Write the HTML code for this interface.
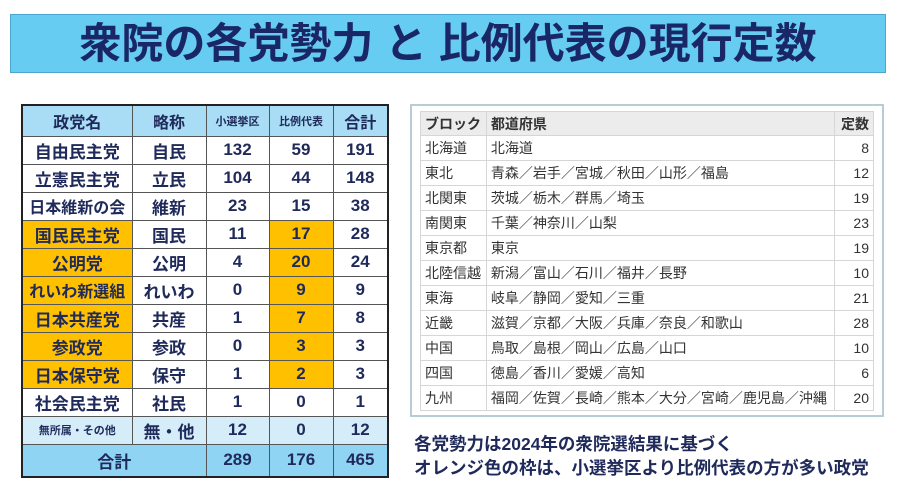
<!DOCTYPE html>
<html><head><meta charset="utf-8"><style>
*{margin:0;padding:0;box-sizing:border-box}
body{width:900px;height:497px;background:#fff;position:relative;overflow:hidden;font-family:"Liberation Sans","Noto Sans CJK JP",sans-serif}
.title{position:absolute;left:10px;top:14px;width:876px;height:59px;background:#66CCF2;border:1px solid #4aa8d0;text-align:center;color:#1a2766;font-weight:bold;font-size:42px;line-height:57px;letter-spacing:0}
table.l{position:absolute;left:21px;top:104px;border-collapse:collapse;border:2px solid #222;color:#1f2a5a;font-weight:bold}
table.l td{border:1px solid #555;text-align:center;height:28px;font-size:17px;padding:0}
table.l tr.h td{height:31px;background:#A9DDF5;font-size:16px}
table.l tr.h td.s{font-size:11px}
table.l tr.m td{background:#D4EDF9}
table.l tr.t td{height:33px;background:#8FD4F2}
.o{background:#FFC000}
.wrap{position:absolute;left:410px;top:104px;width:474px;height:313px;border:2px solid #b8ccd6}
table.r{position:absolute;left:8px;top:5px;width:454px;border-collapse:collapse;color:#333;font-size:14px;border:1px solid #ccc}
table.r td{border:1px solid #d6d6d6;height:25px;padding:0 4px;white-space:nowrap}
table.r tr.h td{background:#ececec;font-weight:bold;height:24px}
table.r td.n{text-align:right}
.note{position:absolute;left:414px;color:#1f2a5a;font-weight:bold;font-size:17.5px}
</style></head><body>
<div class="title">衆院の各党勢力 と 比例代表の現行定数</div>
<table class="l">
<colgroup><col style="width:110px"><col style="width:74px"><col style="width:63px"><col style="width:64px"><col style="width:55px"></colgroup>
<tr class="h"><td>政党名</td><td>略称</td><td class="s">小選挙区</td><td class="s">比例代表</td><td>合計</td></tr>
<tr><td>自由民主党</td><td>自民</td><td>132</td><td>59</td><td>191</td></tr>
<tr><td>立憲民主党</td><td>立民</td><td>104</td><td>44</td><td>148</td></tr>
<tr><td style="font-size:16px">日本維新の会</td><td>維新</td><td>23</td><td>15</td><td>38</td></tr>
<tr><td class="o">国民民主党</td><td>国民</td><td>11</td><td class="o">17</td><td>28</td></tr>
<tr><td class="o">公明党</td><td>公明</td><td>4</td><td class="o">20</td><td>24</td></tr>
<tr><td class="o" style="font-size:16px">れいわ新選組</td><td>れいわ</td><td>0</td><td class="o">9</td><td>9</td></tr>
<tr><td class="o">日本共産党</td><td>共産</td><td>1</td><td class="o">7</td><td>8</td></tr>
<tr><td class="o">参政党</td><td>参政</td><td>0</td><td class="o">3</td><td>3</td></tr>
<tr><td class="o">日本保守党</td><td>保守</td><td>1</td><td class="o">2</td><td>3</td></tr>
<tr><td>社会民主党</td><td>社民</td><td>1</td><td>0</td><td>1</td></tr>
<tr class="m"><td style="font-size:11px">無所属・その他</td><td>無・他</td><td>12</td><td>0</td><td>12</td></tr>
<tr class="t"><td colspan="2">合計</td><td>289</td><td>176</td><td>465</td></tr>
</table>
<div class="wrap">
<table class="r">
<colgroup><col style="width:66px"><col style="width:349px"><col style="width:39px"></colgroup>
<tr class="h"><td>ブロック</td><td>都道府県</td><td class="n">定数</td></tr>
<tr><td>北海道</td><td>北海道</td><td class="n">8</td></tr>
<tr><td>東北</td><td>青森／岩手／宮城／秋田／山形／福島</td><td class="n">12</td></tr>
<tr><td>北関東</td><td>茨城／栃木／群馬／埼玉</td><td class="n">19</td></tr>
<tr><td>南関東</td><td>千葉／神奈川／山梨</td><td class="n">23</td></tr>
<tr><td>東京都</td><td>東京</td><td class="n">19</td></tr>
<tr><td>北陸信越</td><td>新潟／富山／石川／福井／長野</td><td class="n">10</td></tr>
<tr><td>東海</td><td>岐阜／静岡／愛知／三重</td><td class="n">21</td></tr>
<tr><td>近畿</td><td>滋賀／京都／大阪／兵庫／奈良／和歌山</td><td class="n">28</td></tr>
<tr><td>中国</td><td>鳥取／島根／岡山／広島／山口</td><td class="n">10</td></tr>
<tr><td>四国</td><td>徳島／香川／愛媛／高知</td><td class="n">6</td></tr>
<tr><td>九州</td><td>福岡／佐賀／長崎／熊本／大分／宮崎／鹿児島／沖縄</td><td class="n">20</td></tr>
</table>
</div>
<div class="note" style="top:431px">各党勢力は2024年の衆院選結果に基づく</div>
<div class="note" style="top:455px">オレンジ色の枠は、小選挙区より比例代表の方が多い政党</div>
</body></html>
